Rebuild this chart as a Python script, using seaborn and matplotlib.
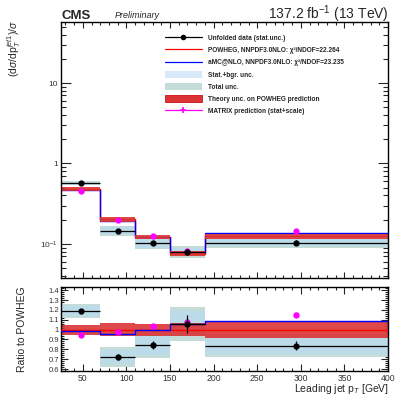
import numpy as np
import pandas as pd
import matplotlib
matplotlib.use("Agg")
import matplotlib.pyplot as plt
from matplotlib.patches import Patch
from matplotlib.lines import Line2D
from matplotlib.ticker import FixedLocator, FixedFormatter, MultipleLocator, LogLocator, NullFormatter
import seaborn as sns

# ---- binning and measured / predicted normalised cross sections ----
bin_edges = [25, 70, 110, 150, 190, 400]
data_xsec = [0.569, 0.146, 0.102, 0.0802, 0.104]      # unfolded data
data_stat_rel = [0.012, 0.045, 0.05, 0.09, 0.06]      # stat. unc. (relative)
data_statbgr_rel = [0.045, 0.10, 0.12, 0.12, 0.10]   # stat.+bgr. unc. (relative)
data_total_rel = [0.057, 0.138, 0.160, 0.161, 0.138]  # total unc. (relative)
powheg_xsec = [0.479, 0.202, 0.121, 0.0758, 0.124]
powheg_theory_rel = [0.05, 0.067, 0.06, 0.065, 0.085]
amc_xsec = [0.473, 0.194, 0.121, 0.0803, 0.135]
matrix_xsec = [0.455, 0.197, 0.125, 0.0816, 0.143]
matrix_unc_rel = [0.012, 0.012, 0.012, 0.012, 0.012]

x_ticks = [50, 100, 150, 200, 250, 300, 350, 400]
ratio_ticks = [0.6, 0.7, 0.8, 0.9, 1.0, 1.1, 1.2, 1.3, 1.4]
ratio_labels = ["0.6", "0.7", "0.8", "0.9", "1", "1.1", "1.2", "1.3", "1.4"]

legend_labels = [
    "Unfolded data (stat.unc.)",
    "POWHEG, NNPDF3.0NLO: \u03c7\u00b2/NDOF=22.264",
    "aMC@NLO, NNPDF3.0NLO: \u03c7\u00b2/NDOF=23.235",
    "Stat.+bgr. unc.",
    "Total unc.",
    "Theory unc. on POWHEG prediction",
    "MATRIX prediction (stat+scale)",
]

sns.set_style("ticks")
plt.rcParams["font.family"] = ["Liberation Sans", "DejaVu Sans"]
plt.rcParams["mathtext.fontset"] = "custom"
plt.rcParams["mathtext.rm"] = "Liberation Sans"
plt.rcParams["mathtext.it"] = "Liberation Sans:italic"
plt.rcParams["mathtext.bf"] = "Liberation Sans:bold"

edges = np.array(bin_edges, dtype=float)
centers = 0.5 * (edges[:-1] + edges[1:])
halfw = 0.5 * (edges[1:] - edges[:-1])
data = np.array(data_xsec)
powheg = np.array(powheg_xsec)
amc = np.array(amc_xsec)
matrix = np.array(matrix_xsec)
stat = np.array(data_stat_rel)
statbgr = np.array(data_statbgr_rel)
total = np.array(data_total_rel)
theo = np.array(powheg_theory_rel)

c_total = "#c4dcd8"
c_stat = "#bcdbe8"
c_theo = "#db3434"
c_magenta = "#ff00ff"

fig = plt.figure(figsize=(3.96, 3.97), dpi=100)
ax = fig.add_axes([0.154, 0.3005, 0.826, 0.6435])
rax = fig.add_axes([0.154, 0.0655, 0.826, 0.2108])


def step_df(values):
    return pd.DataFrame({"x": edges, "y": np.append(values, values[-1])})


def draw_panel(a, dat, pow_, amc_, mat, pow_z, amc_z):
    a.stairs(dat * (1 + total), edges, baseline=dat * (1 - total), fill=True,
             color=c_total, lw=0, zorder=1)
    a.stairs(dat * (1 + statbgr), edges, baseline=dat * (1 - statbgr), fill=True,
             color=c_stat, lw=0, zorder=1.5)
    sns.lineplot(data=step_df(pow_), x="x", y="y", drawstyle="steps-post",
                 color="red", lw=1.0, ax=a, zorder=pow_z, estimator=None, sort=False)
    sns.lineplot(data=step_df(amc_), x="x", y="y", drawstyle="steps-post",
                 color="blue", lw=1.0, ax=a, zorder=amc_z, estimator=None, sort=False)
    a.stairs(pow_ * (1 + theo), edges, baseline=pow_ * (1 - theo), fill=True,
             color=c_theo, alpha=0.9, lw=0, zorder=2)
    a.errorbar(centers, dat, xerr=halfw, yerr=dat * stat, fmt="o", color="black",
               ms=3.5, lw=0.9, capsize=0, zorder=5)
    a.errorbar(centers, mat, yerr=mat * np.array(matrix_unc_rel), fmt="o",
               color=c_magenta, ms=3.5, lw=0.9, capsize=1.5, zorder=4)


draw_panel(ax, data, powheg, amc, matrix, 1.7, 1.8)
draw_panel(rax, data / powheg, np.ones_like(powheg), amc / powheg,
           matrix / powheg, 3.0, 3.5)

# main panel axes
ax.set_yscale("log")
ax.set_xlim(25, 400)
ax.set_ylim(0.038, 57)
ax.set_xlabel("")
ax.set_ylabel("")
ax.xaxis.set_major_locator(MultipleLocator(50))
ax.xaxis.set_minor_locator(MultipleLocator(10))
ax.xaxis.set_major_formatter(NullFormatter())
ax.yaxis.set_major_locator(FixedLocator([0.1, 1, 10]))
ax.yaxis.set_major_formatter(FixedFormatter([r"$10^{-1}$", "1", "10"]))
ax.yaxis.set_minor_locator(LogLocator(base=10, subs=np.arange(2, 10)))
ax.yaxis.set_minor_formatter(NullFormatter())
ax.tick_params(axis="x", which="major", direction="in", top=True, length=4.5, width=0.8)
ax.tick_params(axis="x", which="minor", direction="in", top=True, length=2.3, width=0.8)
ax.tick_params(axis="y", which="major", direction="in", right=True, length=7, width=0.8,
               labelsize=6, pad=2)
ax.tick_params(axis="y", which="minor", direction="in", right=True, length=3.5, width=0.8)

# ratio panel axes
rax.set_xlim(25, 400)
rax.set_ylim(0.58, 1.43)
rax.set_xlabel("")
rax.set_ylabel("")
rax.xaxis.set_major_locator(FixedLocator(x_ticks))
rax.xaxis.set_minor_locator(MultipleLocator(10))
rax.yaxis.set_major_locator(FixedLocator(ratio_ticks))
rax.yaxis.set_major_formatter(FixedFormatter(ratio_labels))
rax.yaxis.set_minor_locator(MultipleLocator(0.02))
rax.tick_params(axis="x", which="major", direction="in", top=True, length=5, width=0.8,
                labelsize=6.2, pad=2)
rax.tick_params(axis="x", which="minor", direction="in", top=True, length=2.5, width=0.8)
rax.tick_params(axis="y", which="major", direction="in", right=True, length=5, width=0.8,
                labelsize=5.5, pad=1.5)
rax.tick_params(axis="y", which="minor", direction="in", right=True, length=2.5, width=0.8)

for a in (ax, rax):
    for s in a.spines.values():
        s.set_linewidth(1.0)
        s.set_color("black")
    for lab in a.get_xticklabels() + a.get_yticklabels():
        lab.set_color("#333333")

# legend
handles = [
    Line2D([], [], color="black", marker="o", ms=3, lw=0.9),
    Line2D([], [], color="red", lw=0.9),
    Line2D([], [], color="blue", lw=0.9),
    Patch(facecolor="#d8e8f8", edgecolor="none"),
    Patch(facecolor=c_total, edgecolor="none"),
    Patch(facecolor=c_theo, edgecolor="#cc1111", lw=0.6),
    Line2D([], [], color=c_magenta, marker="+", ms=4, mew=1.2, lw=0.9),
]
leg = ax.legend(handles, legend_labels, loc="upper left", bbox_to_anchor=(0.31, 0.963),
                frameon=False, prop={"size": 4.7, "weight": "bold"},
                handlelength=5.6, handleheight=1.3, labelspacing=0.68, handletextpad=1.0,
                borderaxespad=0)

# titles and axis titles
fig.text(61 / 396, 1 - 19 / 397, "CMS", fontsize=9.5, fontweight="bold", ha="left",
         va="baseline")
fig.text(115 / 396, 1 - 18 / 397, "Preliminary", fontsize=6.5, style="italic",
         ha="left", va="baseline")
fig.text(389 / 396, 1 - 19 / 397, r"137.2 fb$^{-1}$ (13 TeV)", fontsize=10, ha="right",
         va="baseline")
fig.text(14 / 396, 1 - 20 / 397, r"(d$\sigma$/dp$_{T}^{jet1}$)/$\sigma$", fontsize=7.5,
         rotation=90, ha="center", va="top")
fig.text(22 / 396, 1 - 329 / 397, "Ratio to POWHEG", fontsize=7.5, rotation=90,
         ha="center", va="center")
fig.text(389 / 396, 1 - 392 / 397, r"Leading jet p$_{T}$ [GeV]", fontsize=7.5,
         ha="right", va="baseline")

fig.savefig("out.png", dpi=100)
